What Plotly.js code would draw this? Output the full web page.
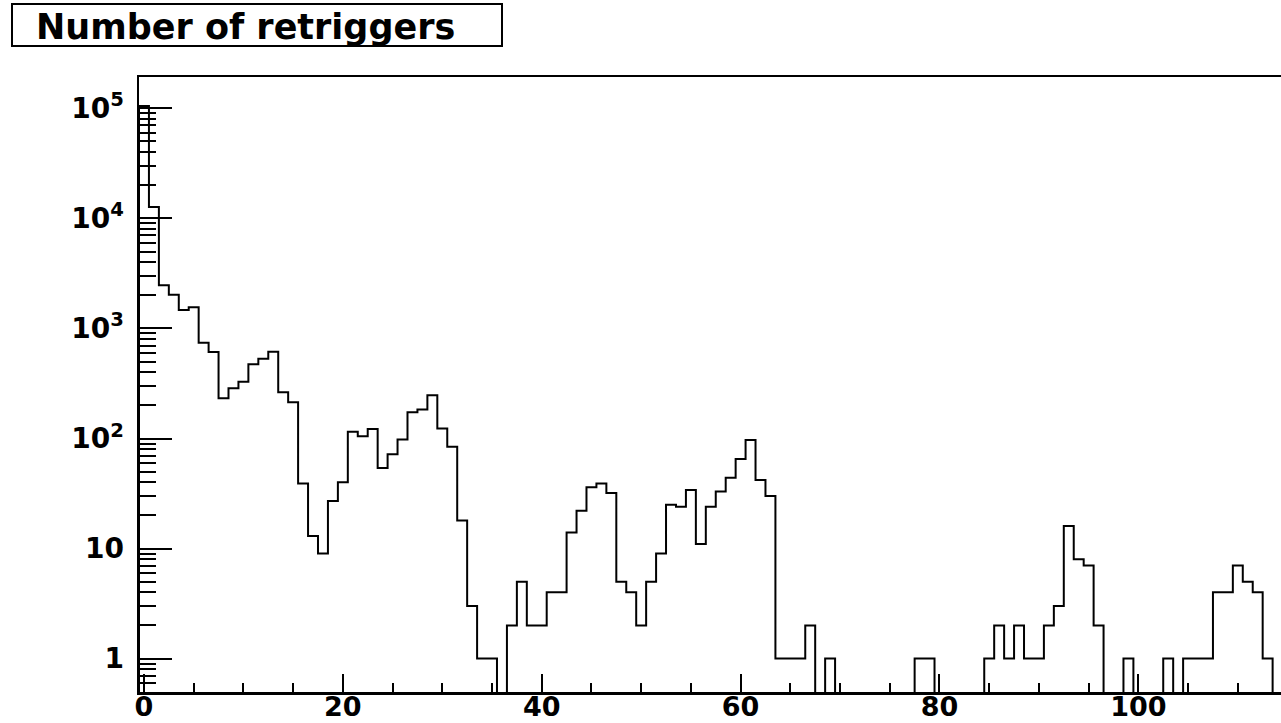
<!DOCTYPE html>
<html>
<head>
<meta charset="utf-8">
<script src="https://cdn.plot.ly/plotly-3.0.1.min.js"></script>
<style>
  html, body { margin: 0; padding: 0; background: #ffffff; }
  #chart { width: 1281px; height: 723px; }
</style>
</head>
<body>
<div id="chart"></div>
<script>
// ---- Data: number of retriggers histogram, unit bins centred on integers ----
const binLow = -0.5;
const binWidth = 1;
const counts = [
  105000, 12700, 2470, 2020, 1470, 1560, 740, 610, 232, 286,
  328, 472, 531, 615, 263, 213, 39, 13, 9, 27,
  40, 115, 105, 122, 54, 72, 98, 173, 183, 247,
  123, 84, 18, 3, 1, 1, 0, 2, 5, 2,
  2, 4, 4, 14, 22, 36, 39, 32, 5, 4,
  2, 5, 9, 25, 24, 34, 11, 24, 33, 44,
  65, 97, 42, 30, 1, 1, 1, 2, 0, 1,
  0, 0, 0, 0, 0, 0, 0, 0, 1, 1,
  0, 0, 0, 0, 0, 1, 2, 1, 2, 1,
  1, 2, 3, 16, 8, 7, 2, 0, 0, 1,
  0, 0, 0, 1, 0, 1, 1, 1, 4, 4,
  7, 5, 4, 1, 0
];
const titleText = "Number of retriggers";
const xTickVals = [0, 20, 40, 60, 80, 100];
const xTickText = ["0", "20", "40", "60", "80", "100"];
const yTickVals = [1, 10, 100, 1000, 10000, 100000];
const yTickText = ["1", "10", "10<sup>2</sup>", "10<sup>3</sup>", "10<sup>4</sup>", "10<sup>5</sup>"];

// ---- Build step outline (empty bins drawn down to the axis floor) ----
const floorVal = 1e-3;
const xs = [binLow];
const ys = [floorVal];
counts.forEach((c, i) => {
  xs.push(binLow + i * binWidth);
  ys.push(c > 0 ? c : floorVal);
});
xs.push(binLow + counts.length * binWidth);
ys.push(counts[counts.length - 1] > 0 ? counts[counts.length - 1] : floorVal);
xs.push(binLow + counts.length * binWidth);
ys.push(floorVal);

// minor log ticks
const yMinor = [];
for (let e = -1; e <= 5; e++) {
  for (let d = 2; d <= 9; d++) {
    const v = d * Math.pow(10, e);
    if (v >= 0.5 && v < 1.9e5) yMinor.push(v);
  }
}

const W = 1281, H = 723;
const L = 139, R = 0, T = 77, B = 31;
const pw = W - L - R, ph = H - T - B;
const px2x = p => (p - L) / pw;
const py2y = p => (H - B - p) / ph;

const font = { family: "DejaVu Sans, Liberation Sans, sans-serif", color: "#000" };

const trace = {
  type: "scatter",
  mode: "lines",
  x: xs,
  y: ys,
  line: { shape: "hv", color: "#000", width: 2 },
  hoverinfo: "skip",
  showlegend: false
};

const layout = {
  width: W,
  height: H,
  margin: { l: L, r: R, t: T, b: B, pad: 0 },
  paper_bgcolor: "#ffffff",
  plot_bgcolor: "#ffffff",
  showlegend: false,
  font: font,
  xaxis: {
    range: [binLow, binLow + pw / 9.944],
    showgrid: false,
    zeroline: false,
    showline: true,
    linecolor: "#000",
    linewidth: 2.5,
    mirror: true,
    ticks: "inside",
    ticklen: 18,
    tickwidth: 2,
    tickcolor: "#000",
    tickmode: "array",
    tickvals: xTickVals,
    ticktext: xTickText,
    tickfont: { family: font.family, size: 27, weight: "bold", color: "#000" },
    ticklabelstandoff: -11,
    minor: { dtick: 5, tick0: 0, ticks: "inside", ticklen: 9, tickwidth: 2, tickcolor: "#000", showgrid: false }
  },
  yaxis: {
    type: "log",
    range: [Math.log10(0.497), 5.285],
    showgrid: false,
    zeroline: false,
    showline: true,
    linecolor: "#000",
    linewidth: 2.5,
    mirror: false,
    ticks: "inside",
    ticklen: 33,
    tickwidth: 2,
    tickcolor: "#000",
    tickmode: "array",
    tickvals: yTickVals,
    ticktext: yTickText,
    tickfont: { family: font.family, size: 28, weight: "bold", color: "#000" },
    ticklabelstandoff: 7,
    minor: { tickmode: "array", tickvals: yMinor, ticks: "inside", ticklen: 17, tickwidth: 2, tickcolor: "#000", showgrid: false }
  },
  shapes: [{
    type: "rect", xref: "paper", yref: "paper",
    x0: px2x(12), x1: px2x(502), y0: py2y(46), y1: py2y(4),
    line: { color: "#000", width: 2 }, fillcolor: "#ffffff", layer: "above"
  }],
  annotations: [{
    xref: "paper", yref: "paper",
    x: px2x(245), y: py2y(27),
    xanchor: "center", yanchor: "middle",
    text: titleText,
    showarrow: false,
    font: { family: font.family, size: 35, weight: "bold", color: "#000" }
  }]
};

Plotly.newPlot("chart", [trace], layout, { staticPlot: true, displayModeBar: false });
</script>
</body>
</html>
